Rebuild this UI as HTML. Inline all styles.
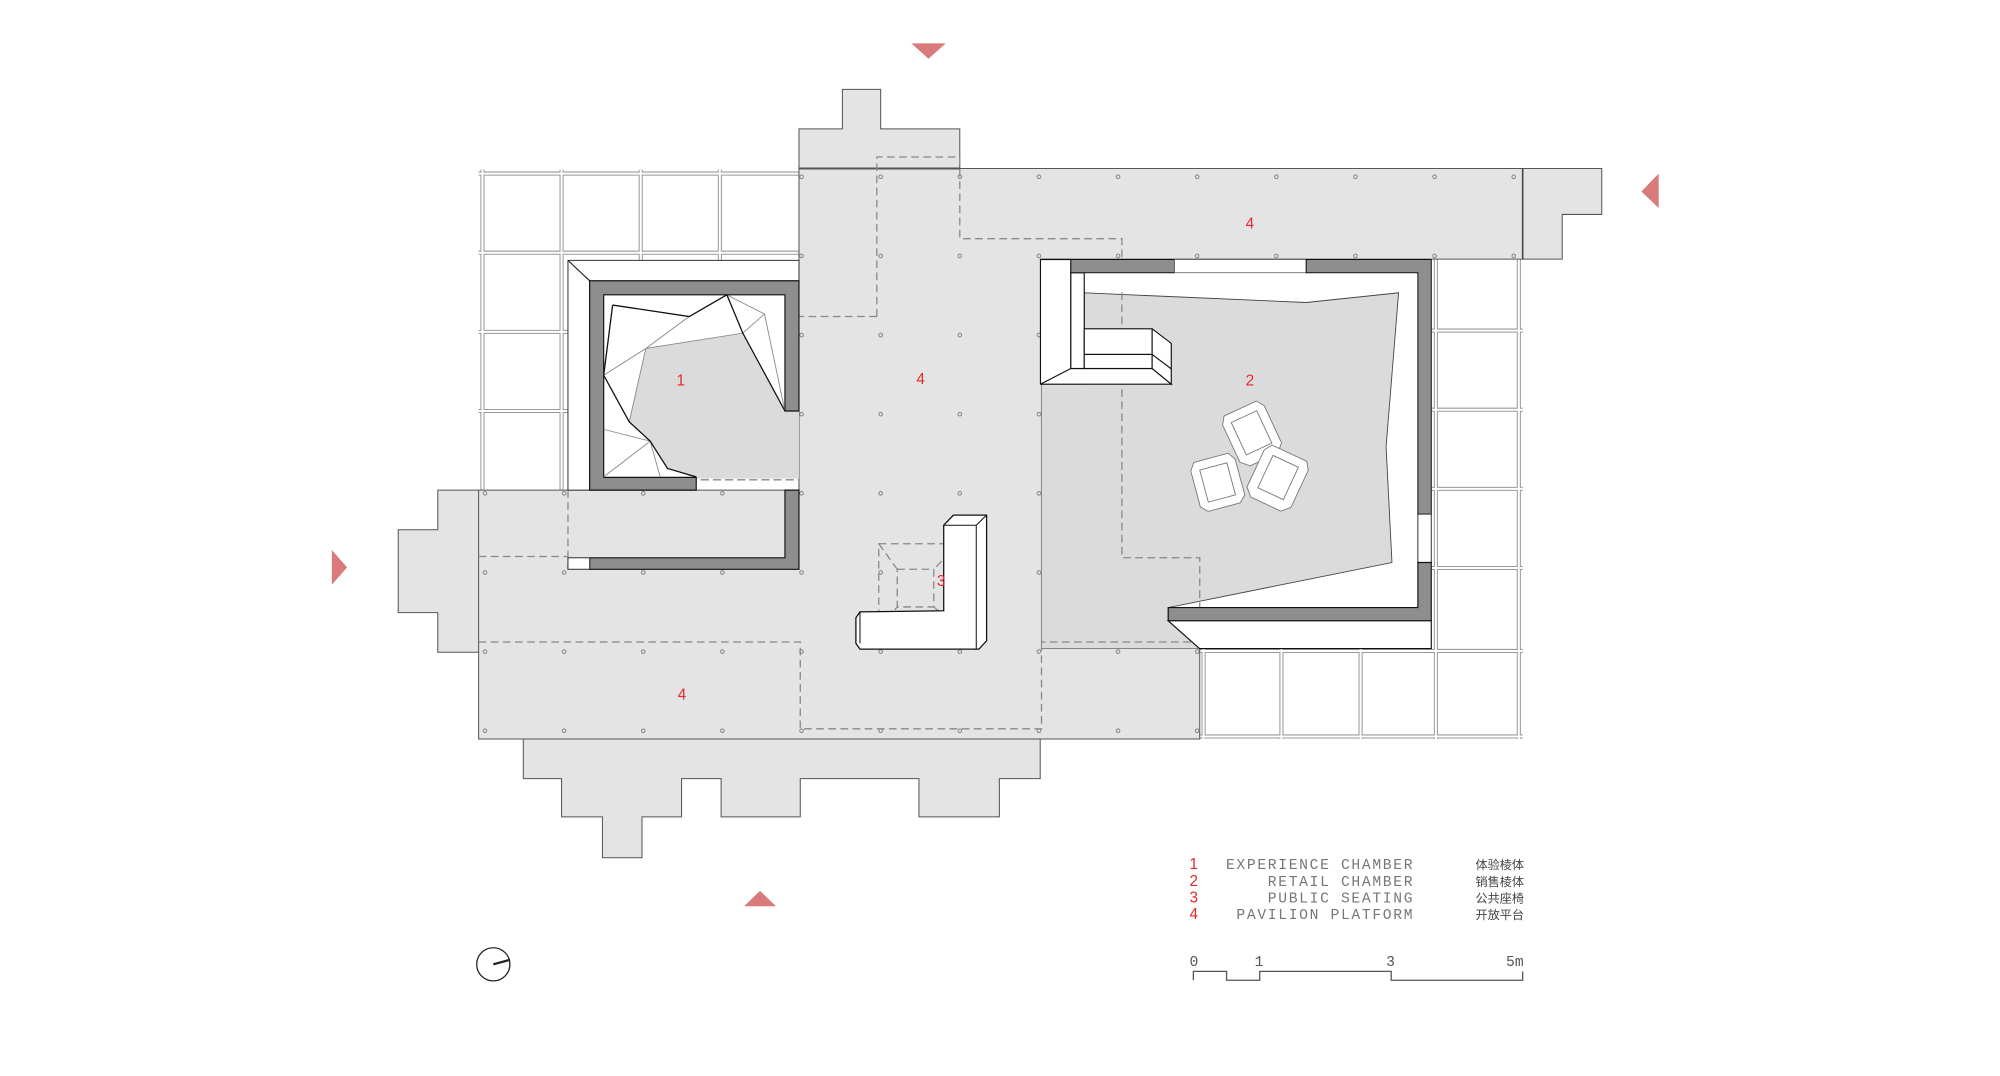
<!DOCTYPE html>
<html><head><meta charset="utf-8"><style>
html,body{margin:0;padding:0;background:#fff;}
svg{display:block;}
.n{font-family:"Liberation Sans",sans-serif;font-size:12px;fill:#e8282b;}
.lg{font-family:"Liberation Mono",monospace;font-size:11.5px;fill:#777;letter-spacing:1.3px;}
.cn{font-family:"Liberation Sans","Noto Sans CJK SC",sans-serif;font-size:9.5px;fill:#444;}
.sc{font-family:"Liberation Mono",monospace;font-size:11.5px;fill:#555;}
</style></head><body>
<svg width="2000" height="1076" viewBox="0 0 1567 843" preserveAspectRatio="none" xmlns="http://www.w3.org/2000/svg">
<defs>
<pattern id="dots" patternUnits="userSpaceOnUse" x="349" y="107.5" width="62" height="62">
<circle cx="31" cy="31" r="1.4" fill="none" stroke="#777" stroke-width="0.7"/>
</pattern>
</defs>
<rect width="1567" height="843" fill="#fff"/>

<!-- scaffold grids -->
<g fill="none">
<g stroke="#999" stroke-width="3.2">
<path d="M375 136H626M375 198H626M375 260H445M375 322H445M378 133V384M440 133V384M502 133V204M564 133V204"/>
<path d="M1122 259H1193M1122 321H1193M1122 383H1193M1122 445H1193M940 510H1193M940 577H1193M1125 203V579M1190 203V579M943 508V579M1004 508V579M1066 508V579"/>
</g>
<g stroke="#fff" stroke-width="1.6">
<path d="M375 136H626M375 198H626M375 260H445M375 322H445M378 133V384M440 133V384M502 133V204M564 133V204"/>
<path d="M1122 259H1193M1122 321H1193M1122 383H1193M1122 445H1193M940 510H1193M940 577H1193M1125 203V579M1190 203V579M943 508V579M1004 508V579M1066 508V579"/>
</g>
</g>

<!-- platform -->
<g fill="#e5e4e5" stroke="#555" stroke-width="0.8">
<path d="M626 132V101H660V70H690V101H752V132Z"/>
<path d="M1193 132H1255V168H1224V203H1193Z"/>
<path d="M375 384V415H343V384Z" stroke="none"/>
<path d="M375 384H343V415H312V480H343V511H375"/>
<path d="M410 579V610H440V640H472V672H503V640H534V610H565V640H627V610H720V640H783V610H815V579"/>
<path d="M626 132H1193V203H816V508H940V579H375V384H626Z"/>
</g>
<path d="M626 132H1193V203H816V508H940V579H375V384H626Z" fill="url(#dots)"/>
<path d="M626 132H752" stroke="#555" stroke-width="1.5"/>
<path d="M1193 132V203" stroke="#444" stroke-width="1.2"/>

<!-- dashed lines -->
<g fill="none" stroke="#888" stroke-width="1" stroke-dasharray="6 3.5">
<path d="M687 248V123H752V187H879V437H940V503H816"/>
<path d="M687 248H626"/>
<path d="M445 376H626"/>
<path d="M445 384V446M375 436H445"/>
<path d="M375 503H627V571H816V508"/>
<rect x="688.5" y="426" width="62.5" height="66"/>
<rect x="703" y="446" width="28.6" height="29.5"/>
<path d="M688.5 426L703 446M751 426L731.6 446M688.5 492L703 475.5M751 492L731.6 475.5"/>
</g>

<!-- experience chamber -->
<path d="M445 204H626V220H462V384H445Z" fill="#fff" stroke="#333" stroke-width="0.8"/>
<path d="M445 204L462 220" stroke="#222" stroke-width="0.9"/>
<rect x="473" y="231" width="142" height="143" fill="#fff"/>
<path d="M506 273L582 261L615 322L626 322V375H545.5L523 367L509.4 345.6L493 330.5Z" fill="#dcdbdc"/>
<path d="M473 376H626" stroke="#888" stroke-width="1" stroke-dasharray="6 3.5"/>
<path d="M462 220H626V322H615V231H473V374H545.5V384H462Z" fill="#8e8e8e" stroke="#111" stroke-width="0.9"/>
<g fill="none" stroke="#888" stroke-width="0.7">
<path d="M540 248L506 273L473 294M506 273L582 261L599 246L569.5 231M599 246L615 322M506 273L493 330.5M473 336.4L509.4 345.6L473 373.6M509.4 345.6L517.3 373.6M473 294L480 239"/>
</g>
<g fill="none" stroke="#111" stroke-width="1">
<path d="M480 239L540 248L569.5 231L582 261L615 322"/>
<path d="M480 239L473 294L493 330.5L509.4 345.6L523 367L545.5 373.6"/>
</g>
<path d="M615 384H626V446H462V437H615Z" fill="#8e8e8e" stroke="#111" stroke-width="0.9"/>
<rect x="445" y="437" width="17" height="9" fill="#fff" stroke="#333" stroke-width="0.8"/>

<!-- retail chamber -->
<rect x="839" y="213" width="272" height="263" fill="#fff"/>
<path d="M849.5 229.4L1023.4 237L1095.8 229.4L1086 350L1090.6 440.7L915.3 476V486.4L939.8 508.1H816V301H849.5Z" fill="#dcdbdc" stroke="#444" stroke-width="0.7"/>
<path d="M816 301V508H940" fill="none" stroke="#999" stroke-width="0.6"/>
<path d="M879 229V437H940V503H816" fill="none" stroke="#888" stroke-width="1" stroke-dasharray="6 3.5"/>
<!-- white L bench block -->
<path d="M815.2 203.3H839V288.7H902.7L917.7 301H815.2Z" fill="#fff" stroke="#111" stroke-width="0.9"/>
<rect x="839" y="213.7" width="10.5" height="75" fill="#fff" stroke="#111" stroke-width="0.9"/>
<rect x="849.5" y="257.6" width="53.2" height="20.1" fill="#fff" stroke="#111" stroke-width="0.9"/>
<rect x="849.5" y="277.7" width="53.2" height="11" fill="#fff" stroke="#111" stroke-width="0.9"/>
<path d="M902.7 257.6L917.7 269V301L902.7 288.7V257.6M902.7 277.7L917.7 289M815.2 301L839 288.7" fill="#fff" stroke="#111" stroke-width="0.9"/>
<path d="M839 203.3H920.2V213.7H839Z" fill="#8e8e8e" stroke="#111" stroke-width="0.8"/>
<path d="M920.2 203.3H1023.4V213.7H920.2Z" fill="#fff" stroke="#555" stroke-width="0.6"/>
<path d="M1023.4 203.3H1121.4V402.8H1110.9V213.7H1023.4Z" fill="#8e8e8e" stroke="#111" stroke-width="0.8"/>
<rect x="1110.9" y="402.8" width="10.5" height="37.9" fill="#fff" stroke="#333" stroke-width="0.8"/>
<path d="M1110.9 440.7H1121.4V486.4H915.3V476H1110.9Z" fill="#8e8e8e" stroke="#111" stroke-width="0.9"/>
<path d="M915.3 486.4H1121.4V508.1H939.8Z" fill="#fff" stroke="#111" stroke-width="0.9"/>

<!-- chairs -->
<g fill="#fff" stroke="#777" stroke-width="0.7">
<g transform="translate(981,340) rotate(-25)">
<path d="M-14 -22H14L18 -16V16L12 22H-12L-18 16V-16Z"/>
<rect x="-11" y="-15" width="22" height="28"/>
</g>
<g transform="translate(954,378) rotate(-15)">
<path d="M-14 -20H14L18 -14V15L13 20H-13L-18 15V-14Z"/>
<rect x="-11" y="-13" width="22" height="26"/>
</g>
<g transform="translate(1001,375) rotate(25)">
<path d="M-15 -22H15L19 -16V16L13 22H-13L-19 16V-16Z"/>
<rect x="-11" y="-15" width="22" height="28"/>
</g>
</g>

<!-- public seating -->
<path d="M739.4 411.5L747 403.6H773V502L767 508.6H673.8L670.6 504.1V484L673.8 479.4L739.4 478.5Z" fill="#fff" stroke="#111" stroke-width="1"/>
<path d="M739.4 411.5H764.9V508.6M764.9 411.5L773 403.6M673.8 479.4V504.1" fill="none" stroke="#111" stroke-width="0.8"/>

<!-- labels -->
<text class="n" x="530" y="302">1</text>
<text class="n" x="718" y="301">4</text>
<text class="n" x="976" y="302">2</text>
<text class="n" x="976" y="179">4</text>
<text class="n" x="531" y="548">4</text>
<text class="n" x="734" y="459">3</text>

<!-- triangles -->
<g fill="#d97b7b">
<path d="M714 34H741L727.5 46Z"/>
<path d="M1299.6 136V163L1286 150Z"/>
<path d="M260 431V458L272 444.5Z"/>
<path d="M583 710H608L595.5 698Z"/>
</g>

<!-- legend -->
<text class="n" x="932" y="681">1</text>
<text class="n" x="932" y="694">2</text>
<text class="n" x="932" y="707">3</text>
<text class="n" x="932" y="720">4</text>
<g text-anchor="end">
<text class="lg" x="1108" y="681">EXPERIENCE CHAMBER</text>
<text class="lg" x="1108" y="694">RETAIL CHAMBER</text>
<text class="lg" x="1108" y="707">PUBLIC SEATING</text>
<text class="lg" x="1108" y="720">PAVILION PLATFORM</text>
<text class="cn" x="1194" y="681">体验棱体</text>
<text class="cn" x="1194" y="694">销售棱体</text>
<text class="cn" x="1194" y="707">公共座椅</text>
<text class="cn" x="1194" y="720">开放平台</text>
</g>
<text class="sc" x="932" y="757">0</text>
<text class="sc" x="983" y="757">1</text>
<text class="sc" x="1086" y="757">3</text>
<text class="sc" x="1180" y="757">5m</text>
<path d="M935 768V761H961V768H987V761H1090V768H1193V761" fill="none" stroke="#555" stroke-width="1"/>

<!-- north -->
<circle cx="386.5" cy="755.5" r="13" fill="none" stroke="#222" stroke-width="1"/>
<path d="M386.5 755.5L399.5 752" stroke="#222" stroke-width="1.8"/>
</svg>
</body></html>
